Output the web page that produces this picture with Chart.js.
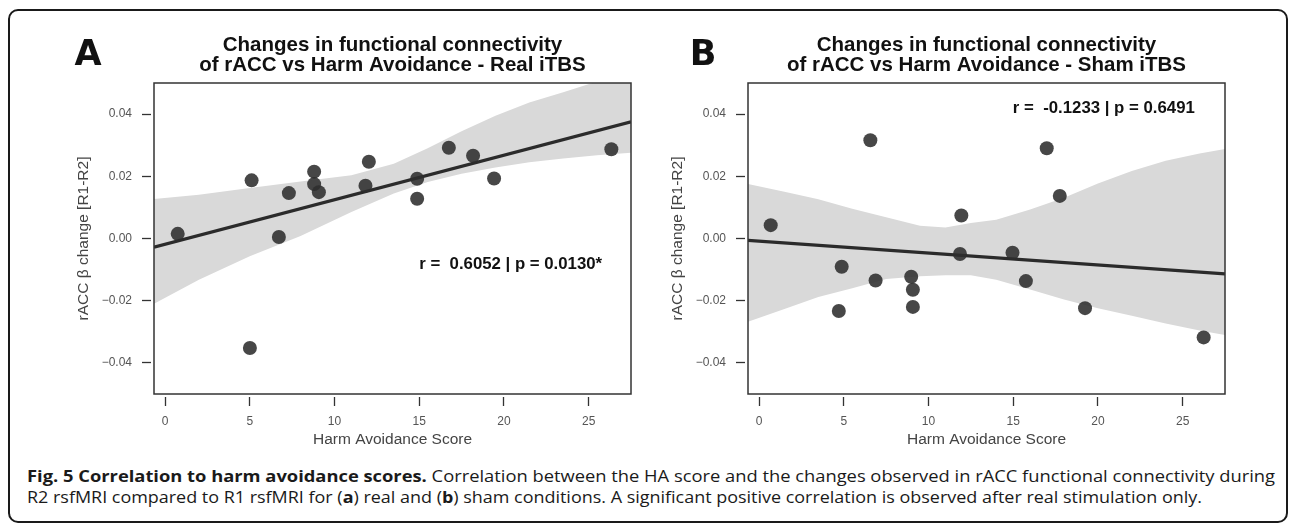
<!DOCTYPE html>
<html>
<head>
<meta charset="utf-8">
<script src="https://cdn.jsdelivr.net/npm/chart.js@4.4.1/dist/chart.umd.min.js"></script>
<style>
  html, body { margin: 0; padding: 0; background: #fff; }
  body { width: 1296px; height: 528px; position: relative; overflow: hidden; }
  .frame { position: absolute; left: 8px; top: 9px; width: 1276px; height: 510px; border: 2px solid #1a1a1a; border-radius: 10px; }
  canvas { position: absolute; top: 0; }
  #chartA { left: 0; }
  #chartB { left: 594px; }
  .cap { position: absolute; left: 27px; font-family: "Open Sans", sans-serif; font-size: 16px; color: #1a1a1a; white-space: nowrap; transform-origin: 0 50%; line-height: 20px; }
  #cap1 { top: 466px; }
  #cap2 { top: 487px; }
</style>
</head>
<body>
<div class="frame"></div>
<canvas id="chartA" width="648" height="455"></canvas>
<canvas id="chartB" width="648" height="455"></canvas>
<div class="cap" id="cap1"><b>Fig. 5 Correlation to harm avoidance scores.</b> Correlation between the HA score and the changes observed in rACC functional connectivity during</div>
<div class="cap" id="cap2">R2 rsfMRI compared to R1 rsfMRI for (<b>a</b>) real and (<b>b</b>) sham conditions. A significant positive correlation is observed after real stimulation only.</div>
<script>
// axis ticks
const xTicks = [0, 5, 10, 15, 20, 25];
const yTicks = [-0.04, -0.02, 0, 0.02, 0.04];

// A - real iTBS
const realHA = [0.75, 5.11, 5.01, 6.72, 7.31, 8.80, 8.80, 9.08, 11.83, 12.03, 14.88, 14.88, 16.75, 18.18, 19.42, 26.34];
const realChange = [0.0015, 0.0187, -0.0352, 0.0005, 0.0146, 0.0215, 0.0175, 0.0149, 0.0170, 0.0247, 0.0192, 0.0128, 0.0292, 0.0266, 0.0193, 0.0287];
const realFitX = [-0.65, 27.5];
const realFitY = [-0.0028, 0.0375];
const realBandX = [-0.65, 2, 5, 8, 11, 13.5, 15.5, 17.5, 19.5, 21.5, 23.5, 25.5, 27.5];
const realUpper = [0.0127, 0.0141, 0.0162, 0.0183, 0.0203, 0.0240, 0.0290, 0.0345, 0.0395, 0.0437, 0.0470, 0.0505, 0.0545];
const realLower = [-0.0210, -0.0133, -0.0057, 0.0008, 0.0085, 0.0145, 0.0182, 0.0208, 0.0228, 0.0245, 0.0257, 0.0268, 0.0276];

// B - sham iTBS
const shamHA = [0.69, 4.71, 4.88, 6.57, 6.88, 8.98, 9.08, 9.08, 11.86, 11.94, 14.96, 15.75, 16.98, 17.75, 19.24, 26.24];
const shamChange = [0.0043, -0.0233, -0.0091, 0.0316, -0.0135, -0.0123, -0.0165, -0.0220, -0.0050, 0.0074, -0.0046, -0.0137, 0.0290, 0.0137, -0.0224, -0.0318];
const shamFitX = [-0.65, 27.5];
const shamFitY = [-0.0006, -0.0114];
const shamBandX = [-0.65, 1.5, 3.5, 5.5, 7.5, 9.5, 11, 12.5, 14, 16, 18, 20, 22, 24, 26, 27.5];
const shamUpper = [0.0175, 0.0150, 0.0126, 0.0096, 0.0068, 0.0041, 0.0035, 0.0050, 0.0060, 0.0093, 0.0131, 0.0177, 0.0217, 0.0250, 0.0273, 0.0288];
const shamLower = [-0.0268, -0.0227, -0.0188, -0.0160, -0.0130, -0.0121, -0.0118, -0.0118, -0.0133, -0.0164, -0.0196, -0.0224, -0.0248, -0.0273, -0.0296, -0.0310];

const fam = '"Liberation Sans", Arial, sans-serif';
const pts = (xs, ys) => xs.map((x, i) => ({x: x, y: ys[i]}));

// frame, titles, panel letter, r/p text
const decor = {
  id: 'decor',
  afterDraw(chart, args, o) {
    const ctx = chart.ctx, a = chart.chartArea;
    const x = chart.scales.x, y = chart.scales.y;
    ctx.save();
    ctx.strokeStyle = '#333';
    ctx.lineWidth = 1.5;
    ctx.strokeRect(a.left, a.top, a.right - a.left, a.bottom - a.top);
    ctx.fillStyle = '#111';
    ctx.textAlign = 'center';
    ctx.textBaseline = 'alphabetic';
    ctx.font = 'bold 20.5px ' + fam;
    const cx = (a.left + a.right) / 2;
    o.title.forEach((t, i) => ctx.fillText(t, cx, 51 + i * 20));
    ctx.font = 'bold 35px "DejaVu Sans", sans-serif';
    ctx.fillText(o.letter, o.letterX, 65);
    ctx.font = 'bold 16.8px ' + fam;
    ctx.textBaseline = 'middle';
    ctx.fillText(o.stat, x.getPixelForValue(o.statAt[0]), y.getPixelForValue(o.statAt[1]));
    ctx.restore();
  }
};

function makeChart(id, d) {
  return new Chart(document.getElementById(id), {
    type: 'scatter',
    data: {
      datasets: [
        {type: 'line', data: pts(d.bandX, d.upper), borderColor: 'rgba(0,0,0,0)', borderWidth: 0, pointRadius: 0, fill: '+1', backgroundColor: '#d9d9d9', order: 3},
        {type: 'line', data: pts(d.bandX, d.lower), borderColor: 'rgba(0,0,0,0)', borderWidth: 0, pointRadius: 0, fill: false, order: 3},
        {type: 'line', data: pts(d.fitX, d.fitY), borderColor: '#2b2b2b', borderWidth: 3.2, pointRadius: 0, fill: false, order: 2},
        {data: pts(d.hx, d.hy), pointRadius: 7, backgroundColor: 'rgba(45,45,45,0.88)', borderWidth: 0, order: 1}
      ]
    },
    options: {
      responsive: false,
      animation: false,
      layout: {padding: {top: 83, right: 17, left: 0, bottom: 0}},
      plugins: {
        legend: {display: false},
        tooltip: {enabled: false},
        decor: {title: d.title, letter: d.letter, letterX: d.letterX, stat: d.stat, statAt: d.statAt}
      },
      scales: {
        x: {
          type: 'linear', min: -0.65, max: 27.5,
          afterBuildTicks: s => { s.ticks = xTicks.map(v => ({value: v})); },
          afterFit: s => { s.height = 61; },
          border: {display: false},
          grid: {drawOnChartArea: false, tickLength: 12, tickColor: '#333', tickWidth: 1.3, tickBorderDash: [0, 3, 9, 20]},
          ticks: {color: '#555', font: {family: fam, size: 12}, padding: 8, maxRotation: 0, autoSkip: false},
          title: {display: true, text: 'Harm Avoidance Score', color: '#444', font: {family: fam, size: 15.5}, padding: {top: 0, bottom: 5.5}}
        },
        y: {
          type: 'linear', min: -0.05, max: 0.05,
          afterBuildTicks: s => { s.ticks = yTicks.map(v => ({value: v})); },
          afterFit: s => { s.width = 154; },
          border: {display: false},
          grid: {drawOnChartArea: false, tickLength: 12, tickColor: '#333', tickWidth: 1.3, tickBorderDash: [9, 3]},
          ticks: {color: '#555', font: {family: fam, size: 12}, padding: 10, callback: v => v.toFixed(2).replace('-', '\u2212')},
          title: {display: true, text: 'rACC \u03b2 change [R1-R2]', color: '#444', font: {family: fam, size: 15.5}, padding: {top: 74.5, bottom: 0}}
        }
      }
    },
    plugins: [decor]
  });
}

makeChart('chartA', {
  hx: realHA, hy: realChange, fitX: realFitX, fitY: realFitY,
  bandX: realBandX, upper: realUpper, lower: realLower,
  title: ['Changes in functional connectivity', 'of rACC vs Harm Avoidance - Real iTBS'],
  letter: 'A', letterX: 88,
  stat: 'r =  0.6052 | p = 0.0130*', statAt: [20.4, -0.0083]
});
makeChart('chartB', {
  hx: shamHA, hy: shamChange, fitX: shamFitX, fitY: shamFitY,
  bandX: shamBandX, upper: shamUpper, lower: shamLower,
  title: ['Changes in functional connectivity', 'of rACC vs Harm Avoidance - Sham iTBS'],
  letter: 'B', letterX: 109,
  stat: 'r =  -0.1233 | p = 0.6491', statAt: [20.35, 0.0419]
});

// stretch caption lines to the reference widths
[['cap1', 1248], ['cap2', 1175]].forEach(([id, w]) => {
  const el = document.getElementById(id);
  el.style.transform = 'scaleX(' + (w / el.getBoundingClientRect().width) + ')';
});
</script>
</body>
</html>
